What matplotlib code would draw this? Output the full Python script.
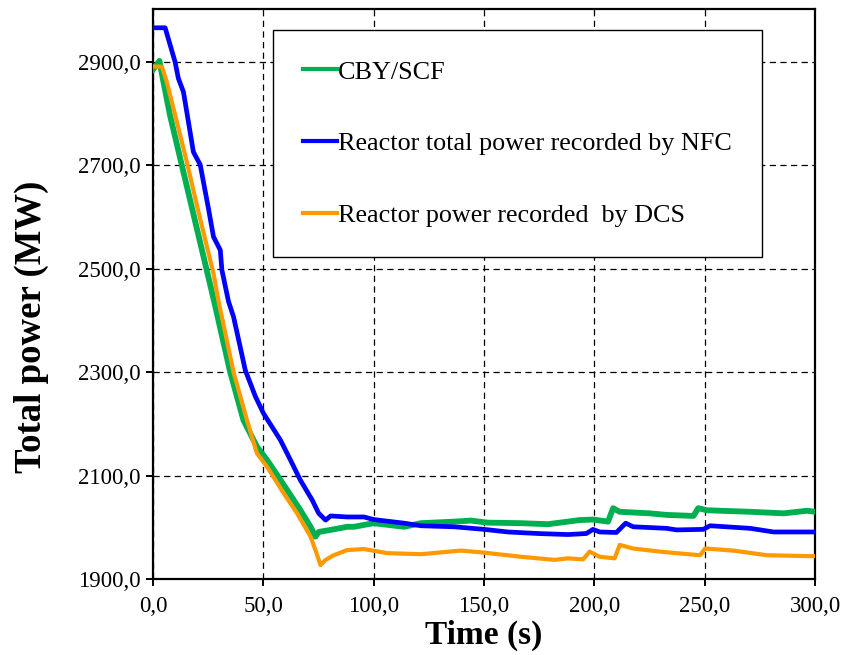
import matplotlib
matplotlib.use("Agg")
import matplotlib.pyplot as plt
from matplotlib.ticker import FuncFormatter, MultipleLocator
from matplotlib.lines import Line2D

plt.rcParams['font.family'] = ['Liberation Serif', 'DejaVu Serif']

# CBY/SCF calculated power
t_scf = [0, 2.9, 4.7, 7.7, 12.3, 16.8, 27.7, 35, 41, 47.1, 51.7, 54.7,
         60.8, 66.8, 71.4, 73.6, 75.1, 80.5, 88, 91, 100, 113.8, 121.4, 136.5,
         144, 151.7, 166.8, 178.9, 188, 193.3, 199.4, 206.2, 208.5, 211.5,
         225.1, 232.7, 244.9, 247.1, 250.9, 270.6, 285.8, 296.4, 300]
p_scf = [2885, 2902, 2862, 2797, 2714, 2633, 2437, 2300, 2207, 2156, 2130,
         2111, 2072, 2033, 2001, 1982, 1991, 1995, 2001, 2001, 2008, 2001, 2008,
         2011, 2013, 2009, 2008, 2006, 2011, 2014, 2015, 2011, 2037, 2030,
         2027, 2024, 2022, 2037, 2033, 2030, 2027, 2032, 2030]

# reactor total power, NFC record
t_nfc = [0, 5.5, 10, 11.5, 13.8, 18.3, 21.4, 25.1, 27.4, 30.5, 31.2, 34.2, 36.5,
         39.5, 41.8, 46.4, 50.1, 57.7, 62.3, 66.8, 72.1, 75.1, 78.2, 80.5, 88,
         95.6, 100, 113.8, 121.4, 136.5, 150.1, 160.8, 174.4, 188, 196.4, 199.4,
         202.4, 210, 214.2, 217.6, 232.7, 237.3, 249.4, 252.4, 270.6, 281.2,
         293.3, 300]
p_nfc = [2966, 2966, 2900, 2868, 2842, 2726, 2701, 2617, 2562, 2536, 2498, 2437,
         2407, 2349, 2304, 2253, 2220, 2169, 2130, 2091, 2053, 2027, 2014, 2022,
         2020, 2020, 2015, 2008, 2003, 2001, 1996, 1991, 1988, 1986, 1988, 1996,
         1991, 1990, 2008, 2001, 1998, 1995, 1996, 2003, 1998, 1991, 1991, 1991]

# reactor power, DCS record
t_dcs = [0, 4, 6.2, 10.8, 15.3, 20.6, 27.4, 29.7, 36.5, 42.6, 47.1, 51.7, 59.2,
         65.3, 71.4, 73.6, 75.9, 78.2, 81.9, 88, 95.6, 106.2, 121.4, 139.5, 150.1,
         166.8, 182, 188, 194.9, 197.9, 202.4, 209.2, 211.5, 217.6, 229.7, 237.3,
         247.9, 250.2, 263, 278.2, 300]
p_dcs = [2891, 2891, 2862, 2784, 2707, 2610, 2491, 2437, 2300, 2207, 2143, 2117,
         2066, 2027, 1982, 1956, 1927, 1937, 1946, 1956, 1958, 1950, 1948, 1955,
         1951, 1943, 1937, 1940, 1938, 1953, 1943, 1940, 1966, 1959, 1953, 1950,
         1946, 1959, 1955, 1946, 1944]

labels = ['CBY/SCF', 'Reactor total power recorded by NFC',
          'Reactor power recorded  by DCS']
colors = ['#00B050', '#0000FF', '#FF9900']

fig = plt.figure(figsize=(8.43, 6.55), dpi=100)
ax = fig.add_axes([0.1815, 0.116, 0.7853, 0.870])

ax.plot(t_scf, p_scf, color=colors[0], lw=4.2, solid_joinstyle='round', zorder=3)
ax.plot(t_dcs, p_dcs, color=colors[2], lw=3.0, solid_joinstyle='round', zorder=4)
ax.plot(t_nfc, p_nfc, color=colors[1], lw=3.4, solid_joinstyle='round', zorder=5)

ax.set_xlim(0, 300)
ax.set_ylim(1900, 3002)
ax.xaxis.set_major_locator(MultipleLocator(50))
ax.set_yticks([1900, 2100, 2300, 2500, 2700, 2900])
comma = FuncFormatter(lambda v, pos: f"{v:.1f}".replace('.', ','))
ax.xaxis.set_major_formatter(comma)
ax.yaxis.set_major_formatter(comma)

ax.grid(True, color='black', lw=0.9, linestyle=(0, (5, 3.5)), zorder=1)
for s in ax.spines.values():
    s.set_linewidth(1.6)
ax.tick_params(direction='out', length=5, width=1.4, labelsize=16.5, colors='black')
ax.tick_params(axis='y', pad=4)
ax.tick_params(axis='x', pad=7)

ax.set_xlabel('Time (s)', fontsize=24, fontweight='bold', labelpad=2)
ax.set_ylabel('Total power (MW)', fontsize=26.5, fontweight='bold')
ax.yaxis.set_label_coords(-0.157, 0.442)

handles = [Line2D([], [], color=c, lw=3.0) for c in colors]
leg = ax.legend(handles, labels, loc='upper left', bbox_to_anchor=(0.181, 0.963),
                fontsize=18.8, frameon=True, fancybox=False, edgecolor='black',
                framealpha=1, borderpad=1.15, labelspacing=1.85, handlelength=1.3,
                handletextpad=0.05, borderaxespad=0)
leg.get_frame().set_linewidth(1.0)
leg.set_zorder(6)

fig.savefig('out.png', dpi=100)
